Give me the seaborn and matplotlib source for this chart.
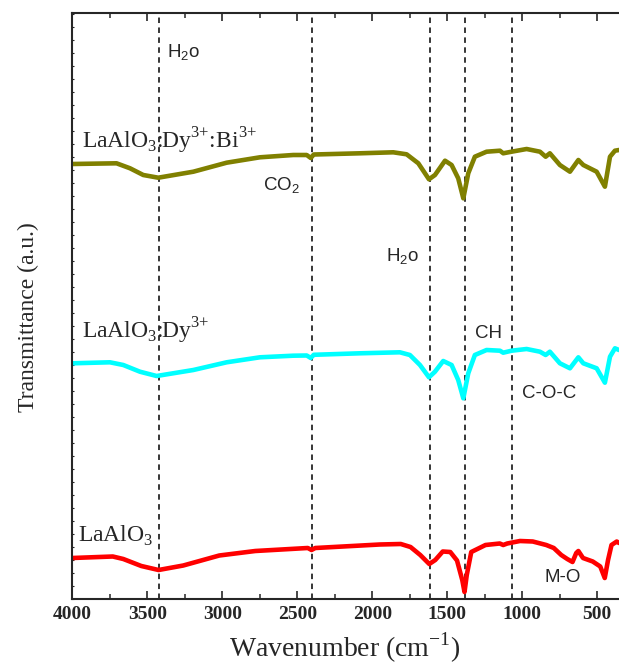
import matplotlib
matplotlib.use("Agg")
import matplotlib.pyplot as plt
import seaborn as sns
import pandas as pd
from matplotlib.ticker import MultipleLocator

# ---- data (arbitrary transmittance units) ----
wn_red = [4000, 3730, 3660, 3540, 3425, 3260, 3020, 2780, 2430, 2405, 2380, 1950, 1810, 1745,
          1680, 1620, 1580, 1530, 1480, 1435, 1400, 1385, 1370, 1340, 1245, 1150, 1127, 1100,
          1015, 930, 840, 790, 740, 700, 665, 640, 626, 595, 530, 480, 450, 428, 405, 370, 355]
t_red = [41, 42.5, 40, 33, 29, 33.5, 43.5, 48, 51, 49, 51, 54.5, 55, 52,
         44, 35, 39, 47.5, 47, 38.5, 19, 7, 24, 47, 54, 55.5, 54, 55.5,
         58, 57.5, 54, 51, 44, 40, 37, 46, 48, 41, 37.5, 32.5, 21, 39, 54, 57.5, 56]

wn_cyan = [4000, 3749, 3660, 3549, 3438, 3193, 2971, 2749, 2527, 2437, 2410, 2390, 2082, 1816,
           1749, 1682, 1622, 1582, 1527, 1471, 1427, 1393, 1360, 1316, 1238, 1149, 1127, 1071,
           971, 882, 844, 816, 749, 682, 626, 593, 504, 449, 415, 382, 355]
t_cyan = [235.7, 236.7, 234, 227.3, 223, 229, 236.7, 241.7, 243.3, 243.5, 241, 244.2, 245.7, 246.7,
          244, 234, 221.7, 227.3, 238, 234, 219, 200.7, 225.7, 244, 249, 248.3, 246.3, 248.3,
          250, 247.3, 244, 247.3, 235.7, 230.7, 241.7, 235.7, 230.7, 216.3, 242.3, 250.7, 249]

wn_olive = [4000, 3705, 3615, 3527, 3427, 3193, 2971, 2749, 2527, 2437, 2410, 2390, 2082, 1860,
            1771, 1693, 1622, 1582, 1515, 1471, 1427, 1393, 1360, 1316, 1238, 1149, 1127, 1071,
            971, 882, 844, 816, 749, 682, 626, 593, 504, 449, 415, 382, 355]
t_olive = [435, 435.7, 430.7, 424, 421.3, 427.3, 436.3, 441.7, 444, 444, 441, 444.5, 445.7, 446.7,
           444.7, 435.7, 419.7, 424, 438.3, 434, 420.7, 400.7, 425.7, 442.3, 447.3, 448.3, 445.7, 447.3,
           450, 447.3, 442.3, 445.7, 434, 427.3, 439, 434, 427.3, 412.3, 442.3, 448.3, 449]

band_lines = [3425, 2405, 1615, 1385, 1068]
x_ticks = [4000, 3500, 3000, 2500, 2000, 1500, 1000, 500]

sns.set_style("ticks")
plt.rcParams['font.family'] = ['Liberation Serif', 'DejaVu Serif']
plt.rcParams['mathtext.fontset'] = 'custom'
plt.rcParams['mathtext.rm'] = 'Liberation Serif'

fig = plt.figure(figsize=(6.19, 6.64), dpi=100)
ax = fig.add_axes([72.3 / 619, (664 - 599) / 664, 1 - 72.3 / 619, (599 - 13) / 664])

for wn, t, c in [(wn_red, t_red, '#ff0000'), (wn_cyan, t_cyan, '#00ffff'), (wn_olive, t_olive, '#808000')]:
    df = pd.DataFrame({'wn': wn, 't': t})
    sns.lineplot(data=df, x='wn', y='t', color=c, lw=3.3, ax=ax, sort=False,
                 solid_joinstyle='round', solid_capstyle='round')

for b in band_lines:
    ax.axvline(b, color='black', lw=1.1, linestyle=(0, (3.6, 2.9)), zorder=1)

ax.set_xlim(4000, 355)
ax.set_ylim(0, 586)
ax.set_xticks(x_ticks)
ax.set_xticklabels([str(v) for v in x_ticks], fontweight='bold', fontsize=14)
ax.xaxis.set_minor_locator(MultipleLocator(250))
ax.yaxis.set_major_locator(MultipleLocator(13))
ax.set_yticklabels([])
ax.tick_params(axis='x', which='major', direction='in', length=6, width=1.2, top=True, pad=5)
ax.tick_params(axis='x', which='minor', direction='in', length=3.3, width=1.1, top=True)
ax.tick_params(axis='y', which='major', direction='in', length=1.5, width=0.8, left=True, right=False)
for s in ['left', 'bottom', 'top']:
    ax.spines[s].set_linewidth(1.5)
ax.spines['right'].set_visible(False)

ax.set_xlabel('Wavenumber (cm$^{-1}$)', fontsize=20)
ax.xaxis.set_label_coords((345 - 72.3) / 546.7, -(648 - 599) / 586)
ax.xaxis.label.set_va('center')
ax.set_ylabel('Transmittance (a.u.)', fontsize=17)
ax.yaxis.set_label_coords(-(72.3 - 28) / 546.7, (599 - 317) / 586)
ax.yaxis.label.set_va('center')

sans = ['Liberation Sans', 'DejaVu Sans']
fs = 13.5
ax.text(3371, 546, r'H$_\mathregular{2}$o', family=sans, fontsize=fs, va='center', ha='left')
ax.text(2729, 413, r'CO$_\mathregular{2}$', family=sans, fontsize=fs, va='center', ha='left')
ax.text(1909, 342, r'H$_\mathregular{2}$o', family=sans, fontsize=fs, va='center', ha='left')
ax.text(1316, 266, 'CH', family=sans, fontsize=fs, va='center', ha='left')
ax.text(1004, 206, 'C-O-C', family=sans, fontsize=fs, va='center', ha='left')
ax.text(849, 21, 'M-O', family=sans, fontsize=fs, va='center', ha='left')

ax.text(3937, 451, r'LaAlO$_\mathregular{3}$:Dy$^{\mathregular{3}{+}}$:Bi$^{\mathregular{3}{+}}$',
        fontsize=17, va='baseline', ha='left')
ax.text(3935, 261, r'LaAlO$_\mathregular{3}$:Dy$^{\mathregular{3}{+}}$', fontsize=17, va='baseline', ha='left')
ax.text(3964, 57, r'LaAlO$_\mathregular{3}$', fontsize=17, va='baseline', ha='left')

fig.savefig('out.png', dpi=100)
